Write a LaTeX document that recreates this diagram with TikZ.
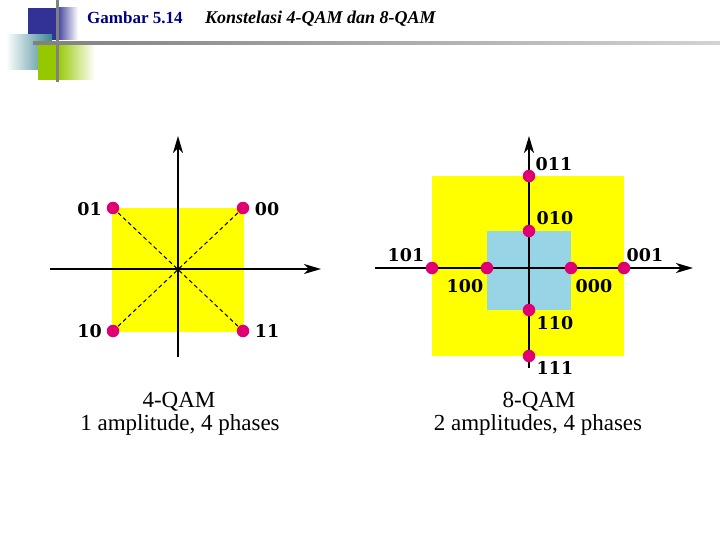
\documentclass[tikz,border=0pt]{standalone}
\usepackage{fontspec}
\setmainfont{Liberation Serif}
\newfontfamily\lblfont{DejaVu Serif}
\usetikzlibrary{arrows.meta}
\definecolor{dotc}{RGB}{225,0,115}
\definecolor{qyellow}{RGB}{255,255,0}
\definecolor{qblue}{RGB}{150,212,230}
\definecolor{hdblue}{RGB}{50,50,150}
\definecolor{hdteal}{RGB}{60,135,145}
\definecolor{hdgreen}{RGB}{150,200,0}
\definecolor{titleblue}{RGB}{0,0,128}
\definecolor{hdgray}{RGB}{128,128,128}
\tikzset{
  pt/.style={circle, fill=dotc, minimum size=12.5pt, inner sep=0pt},
  lbl/.style={font=\lblfont\bfseries\fontsize{17.5}{19}\selectfont, inner sep=0pt},
  axisline/.style={line width=1.4pt, -{Stealth[length=17pt,width=10pt,inset=5pt]}},
  axisthick/.style={line width=2.2pt, -{Stealth[length=17pt,width=10pt,inset=5pt]}},
  capt/.style={font=\fontsize{23}{26}\selectfont, inner sep=0pt, anchor=base},
  diag/.style={line width=1pt, dash pattern=on 4pt off 3pt}
}
\begin{document}
\begin{tikzpicture}[x=1pt,y=-1pt]
\useasboundingbox (0,0) rectangle (720,540);
% header decoration
\fill[hdblue] (28,8) rectangle (56,40);
\shade[left color=hdblue, right color=white] (56,8) rectangle (78,40);
\shade[left color=white, right color=hdteal] (6,35) rectangle (52,70);
\fill[hdgreen] (38,45) rectangle (57,80);
\shade[left color=hdgreen, right color=white] (57,45) rectangle (95,80);
\draw[hdgray, line width=3pt] (57,0) -- (57,82);
\shade[left color=hdgray, right color=hdgray!35] (33,41.5) rectangle (720,44.5);
% title
\node[anchor=base west, inner sep=0pt, text=titleblue, font=\bfseries\fontsize{17}{20}\selectfont] (tnum) at (87,24) {Gambar 5.14};
\node[anchor=base west, inner sep=0pt, font=\bfseries\itshape\fontsize{18}{20}\selectfont] (ttext) at (205,24) {Konstelasi 4-QAM dan 8-QAM};

% ---- 4-QAM ----
\fill[qyellow] (112,208) rectangle (244,332);
\coordinate (c01) at (113,208);
\coordinate (c00) at (243,208);
\coordinate (c10) at (113,331);
\coordinate (c11) at (243,331);
\coordinate (lxl) at (50,269);
\coordinate (lxr) at (321,269);
\coordinate (lyb) at (178,357);
\coordinate (lyt) at (178,136);
\draw[diag] (c01) -- (c11);
\draw[diag] (c00) -- (c10);
\draw[axisline] (lxl) -- (lxr);
\draw[axisline] (lyb) -- (lyt);
\node[pt] (d01) at (c01) {};
\node[pt] (d00) at (c00) {};
\node[pt] (d10) at (c10) {};
\node[pt] (d11) at (c11) {};
\node[lbl] (l01) at (89.5,209) {01};
\node[lbl] (l00) at (267,209) {00};
\node[lbl] (l10) at (89.5,331) {10};
\node[lbl] (l11) at (267,331) {11};
\node[capt] (cap4a) at (179,407) {4-QAM};
\node[capt] (cap4b) at (180,430) {1 amplitude, 4 phases};

% ---- 8-QAM ----
\fill[qyellow] (432,176) rectangle (624,356);
\fill[qblue] (487,231) rectangle (571,310);
\coordinate (rxl) at (375,268);
\coordinate (rxr) at (693,268);
\coordinate (ryb) at (529,368);
\coordinate (ryt) at (529,136);
\draw[axisline, line width=2pt] (rxl) -- (rxr);
\draw[axisthick] (ryb) -- (ryt);
\node[pt] (e011) at (529,176) {};
\node[pt] (e010) at (529,231) {};
\node[pt] (e101) at (432,268) {};
\node[pt] (e100) at (487,268) {};
\node[pt] (e000) at (571,268) {};
\node[pt] (e001) at (624,268) {};
\node[pt] (e110) at (529,310) {};
\node[pt] (e111) at (529,356) {};
\node[lbl] (m011) at (554,164) {011};
\node[lbl] (m010) at (555,218) {010};
\node[lbl] (m101) at (406,255) {101};
\node[lbl] (m100) at (465,286) {100};
\node[lbl] (m000) at (594,286) {000};
\node[lbl] (m001) at (645,255) {001};
\node[lbl] (m110) at (555,323) {110};
\node[lbl] (m111) at (555,368) {111};
\node[capt] (cap8a) at (539,407) {8-QAM};
\node[capt] (cap8b) at (538,430) {2 amplitudes, 4 phases};
\end{tikzpicture}
\end{document}
